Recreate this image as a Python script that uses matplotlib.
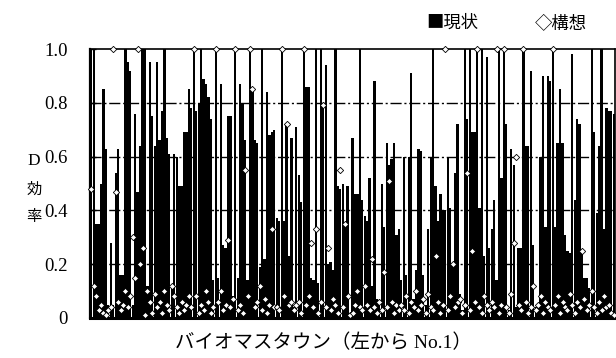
import matplotlib
matplotlib.use("Agg")
import matplotlib.pyplot as plt
import numpy as np

# 現状のD効率（バイオマスタウン No.1 から順に）
genjo = [
    1.0, 1.0, 0.35, 0.35, 0.50, 0.85, 0.63, 0.05, 0.28, 0.05,
    0.54, 0.63, 0.16, 0.16, 1.0, 0.95, 0.92, 0.05, 0.76, 0.47,
    0.64, 1.0, 1.0, 0.12, 0.95, 0.75, 0.64, 0.95, 0.66, 0.77,
    1.0, 0.67, 0.61, 0.12, 0.61, 0.60, 0.49, 0.49, 0.69, 0.69,
    0.85,
    0.78, 1.0, 0.77, 0.80, 1.0, 0.89, 0.87, 0.82, 0.74, 0.14,
    1.0, 0.15, 0.87, 0.27, 0.26, 0.75, 0.75, 0.08, 1.0, 0.15,
    0.87, 0.80, 0.66, 0.14, 1.0, 0.85, 0.66, 0.65, 0.19, 1.0,
    0.22, 0.84, 0.68, 0.69, 0.70, 0.37, 0.36, 1.0, 0.36, 0.72,
    0.23, 0.67, 0.04, 0.71,
    0.53, 0.43, 1.0, 0.86, 0.86, 0.15, 0.14, 1.0, 0.13, 1.0,
    0.80, 0.94, 0.20, 0.21, 0.18, 1.0, 0.49, 0.48, 0.50, 0.35,
    0.49, 0.02, 0.67, 0.46, 0.46, 1.0, 0.44, 0.38, 0.36, 0.52,
    0.12, 0.88, 0.07, 0.05, 0.50, 0.34, 0.65, 0.57, 0.59, 0.65,
    0.31, 0.33,
    0.14, 0.60, 0.16, 0.60, 0.91, 0.07, 0.18, 0.63, 0.62, 0.16,
    0.05, 0.33, 0.60, 1.0, 0.49, 0.36, 0.46, 0.40, 0.40, 0.60,
    0.41, 0.20, 0.54, 0.72, 0.09, 0.03, 1.0, 0.74, 1.0, 0.69,
    0.69, 1.0, 0.41, 1.0, 0.23, 0.97, 0.26, 0.33, 0.44, 0.14,
    1.0, 0.52, 1.0,
    0.72, 0.03, 0.63, 0.57, 0.04, 0.26, 0.26, 1.0, 0.64, 0.64,
    0.92, 0.27, 0.04, 0.04, 0.60, 0.90, 0.34, 0.90, 0.88, 1.0,
    0.34, 0.65, 0.85, 0.65, 0.31, 0.25, 0.24, 0.98, 0.44, 0.74,
    0.72, 0.25, 0.15, 0.15, 0.11, 1.0, 0.69, 0.39, 0.64, 1.0,
    0.33, 0.78, 0.77, 0.77, 0.76,
]

# 構想のD効率
koso = [
    0.48, 0.12, 0.08, 0.03, 0.05, 0.02, 0.01, 0.03, 0.04, 1.0,
    0.47, 0.06, 0.03, 0.05, 0.10, 0.04, 0.08, 0.30, 0.15, 1.0,
    0.20, 0.26, 0.01, 0.10, 0.06, 0.02, 0.09, 0.04, 0.06, 0.02,
    0.10, 0.05, 0.03, 0.12, 0.08, 0.04, 0.02, 0.06, 0.03, 0.05,
    0.08,
    0.04, 1.0, 0.08, 0.02, 0.05, 0.03, 0.10, 0.06, 0.02, 0.04,
    1.0, 0.06, 0.10, 0.03, 0.05, 0.29, 0.04, 0.07, 1.0, 0.03,
    0.05, 0.02, 0.55, 0.08, 1.0, 0.85, 0.04, 0.06, 0.12, 0.03,
    0.07, 0.02, 0.05, 0.33, 0.04, 0.04, 0.03, 1.0, 0.08, 0.72,
    0.05, 0.06, 0.03, 0.05,
    0.06, 0.02, 1.0, 0.05, 0.08, 0.28, 0.04, 0.33, 0.02, 0.06,
    0.79, 0.04, 0.26, 0.03, 0.07, 0.05, 0.02, 0.55, 0.04, 0.35,
    0.08, 0.01, 0.02, 0.05, 0.10, 0.04, 0.03, 0.12, 0.05, 0.03,
    0.22, 0.04, 0.02, 0.06, 0.03, 0.17, 0.04, 0.51, 0.06, 0.02,
    0.05, 0.03,
    0.05, 0.03, 0.08, 0.02, 0.06, 0.04, 0.10, 0.03, 0.05, 0.07,
    0.02, 0.09, 0.04, 0.03, 0.23, 0.06, 0.02, 0.05, 1.0, 0.03,
    0.08, 0.20, 0.04, 0.06, 0.07, 0.02, 0.05, 0.54, 0.03, 0.25,
    0.06, 1.0, 0.04, 0.02, 0.08, 0.05, 0.03, 0.06, 0.04, 1.0,
    0.02, 0.05, 1.0,
    0.04, 0.02, 0.09, 0.28, 0.60, 0.05, 0.03, 1.0, 0.06, 0.02,
    0.04, 0.12, 0.03, 0.05, 0.08, 0.02, 0.06, 0.04, 0.03, 1.0,
    0.05, 0.08, 0.02, 0.06, 0.04, 0.03, 0.09, 0.05, 0.02, 0.06,
    0.04, 0.25, 0.07, 0.03, 0.05, 0.10, 0.04, 0.02, 0.06, 0.03,
    0.08, 0.04, 0.05, 0.02, 0.01,
]

yticks = [0, 0.2, 0.4, 0.6, 0.8, 1.0]
ytick_labels = ["0", "0.2", "0.4", "0.6", "0.8", "1.0"]
gridlines = [0.2, 0.4, 0.6, 0.8]

plt.rcParams["font.family"] = ["Liberation Serif", "Noto Sans CJK JP"]
jp = ["Noto Sans CJK JP", "Liberation Serif"]

fig = plt.figure(figsize=(6.16, 3.58), dpi=100)
ax = fig.add_axes([90 / 616, 40 / 358, 525 / 616, 269 / 358])

x = np.arange(len(genjo))
ax.bar(x, genjo, width=0.92, color="black", linewidth=0, zorder=2)
ax.plot(x, koso, linestyle="none", marker="D", markersize=3.2,
        markerfacecolor="white", markeredgecolor="black",
        markeredgewidth=0.6, zorder=3, clip_on=False)

for g in gridlines:
    ax.axhline(g, color="black", linewidth=1.0,
               linestyle=(0, (8, 2, 1.5, 2)), zorder=1)

ax.set_xlim(-0.5, len(genjo) - 0.5)
ax.set_ylim(0, 1.0)
ax.set_xticks([])
ax.set_yticks(yticks)
ax.set_yticklabels(ytick_labels, fontsize=13.5)
ax.tick_params(axis="y", direction="in", length=4, width=1, pad=16)

for side, lw in (("left", 1.6), ("bottom", 2.2), ("top", 1.2), ("right", 1.2)):
    ax.spines[side].set_linewidth(lw)
    ax.spines[side].set_color("black")

# 縦書きの軸タイトル
fig.text(34 / 616, 1 - 161 / 358, "D", fontsize=12.5,
         ha="center", va="center")
fig.text(34 / 616, 1 - 189 / 358, "効", fontfamily=jp, fontsize=11,
         ha="center", va="center")
fig.text(34 / 616, 1 - 216 / 358, "率", fontfamily=jp, fontsize=11,
         ha="center", va="center")

fig.text(323 / 616, 1 - 343 / 358, "バイオマスタウン（左から No.1）",
         fontsize=14, ha="center", va="center")

# 凡例
fig.text(426 / 616, 1 - 23 / 358, "■現状", fontfamily=jp, fontsize=12.5,
         ha="left", va="center")
fig.text(535 / 616, 1 - 23 / 358, "◇構想", fontfamily=jp, fontsize=12.5,
         ha="left", va="center")

fig.savefig("out.png", dpi=100, facecolor="white")
